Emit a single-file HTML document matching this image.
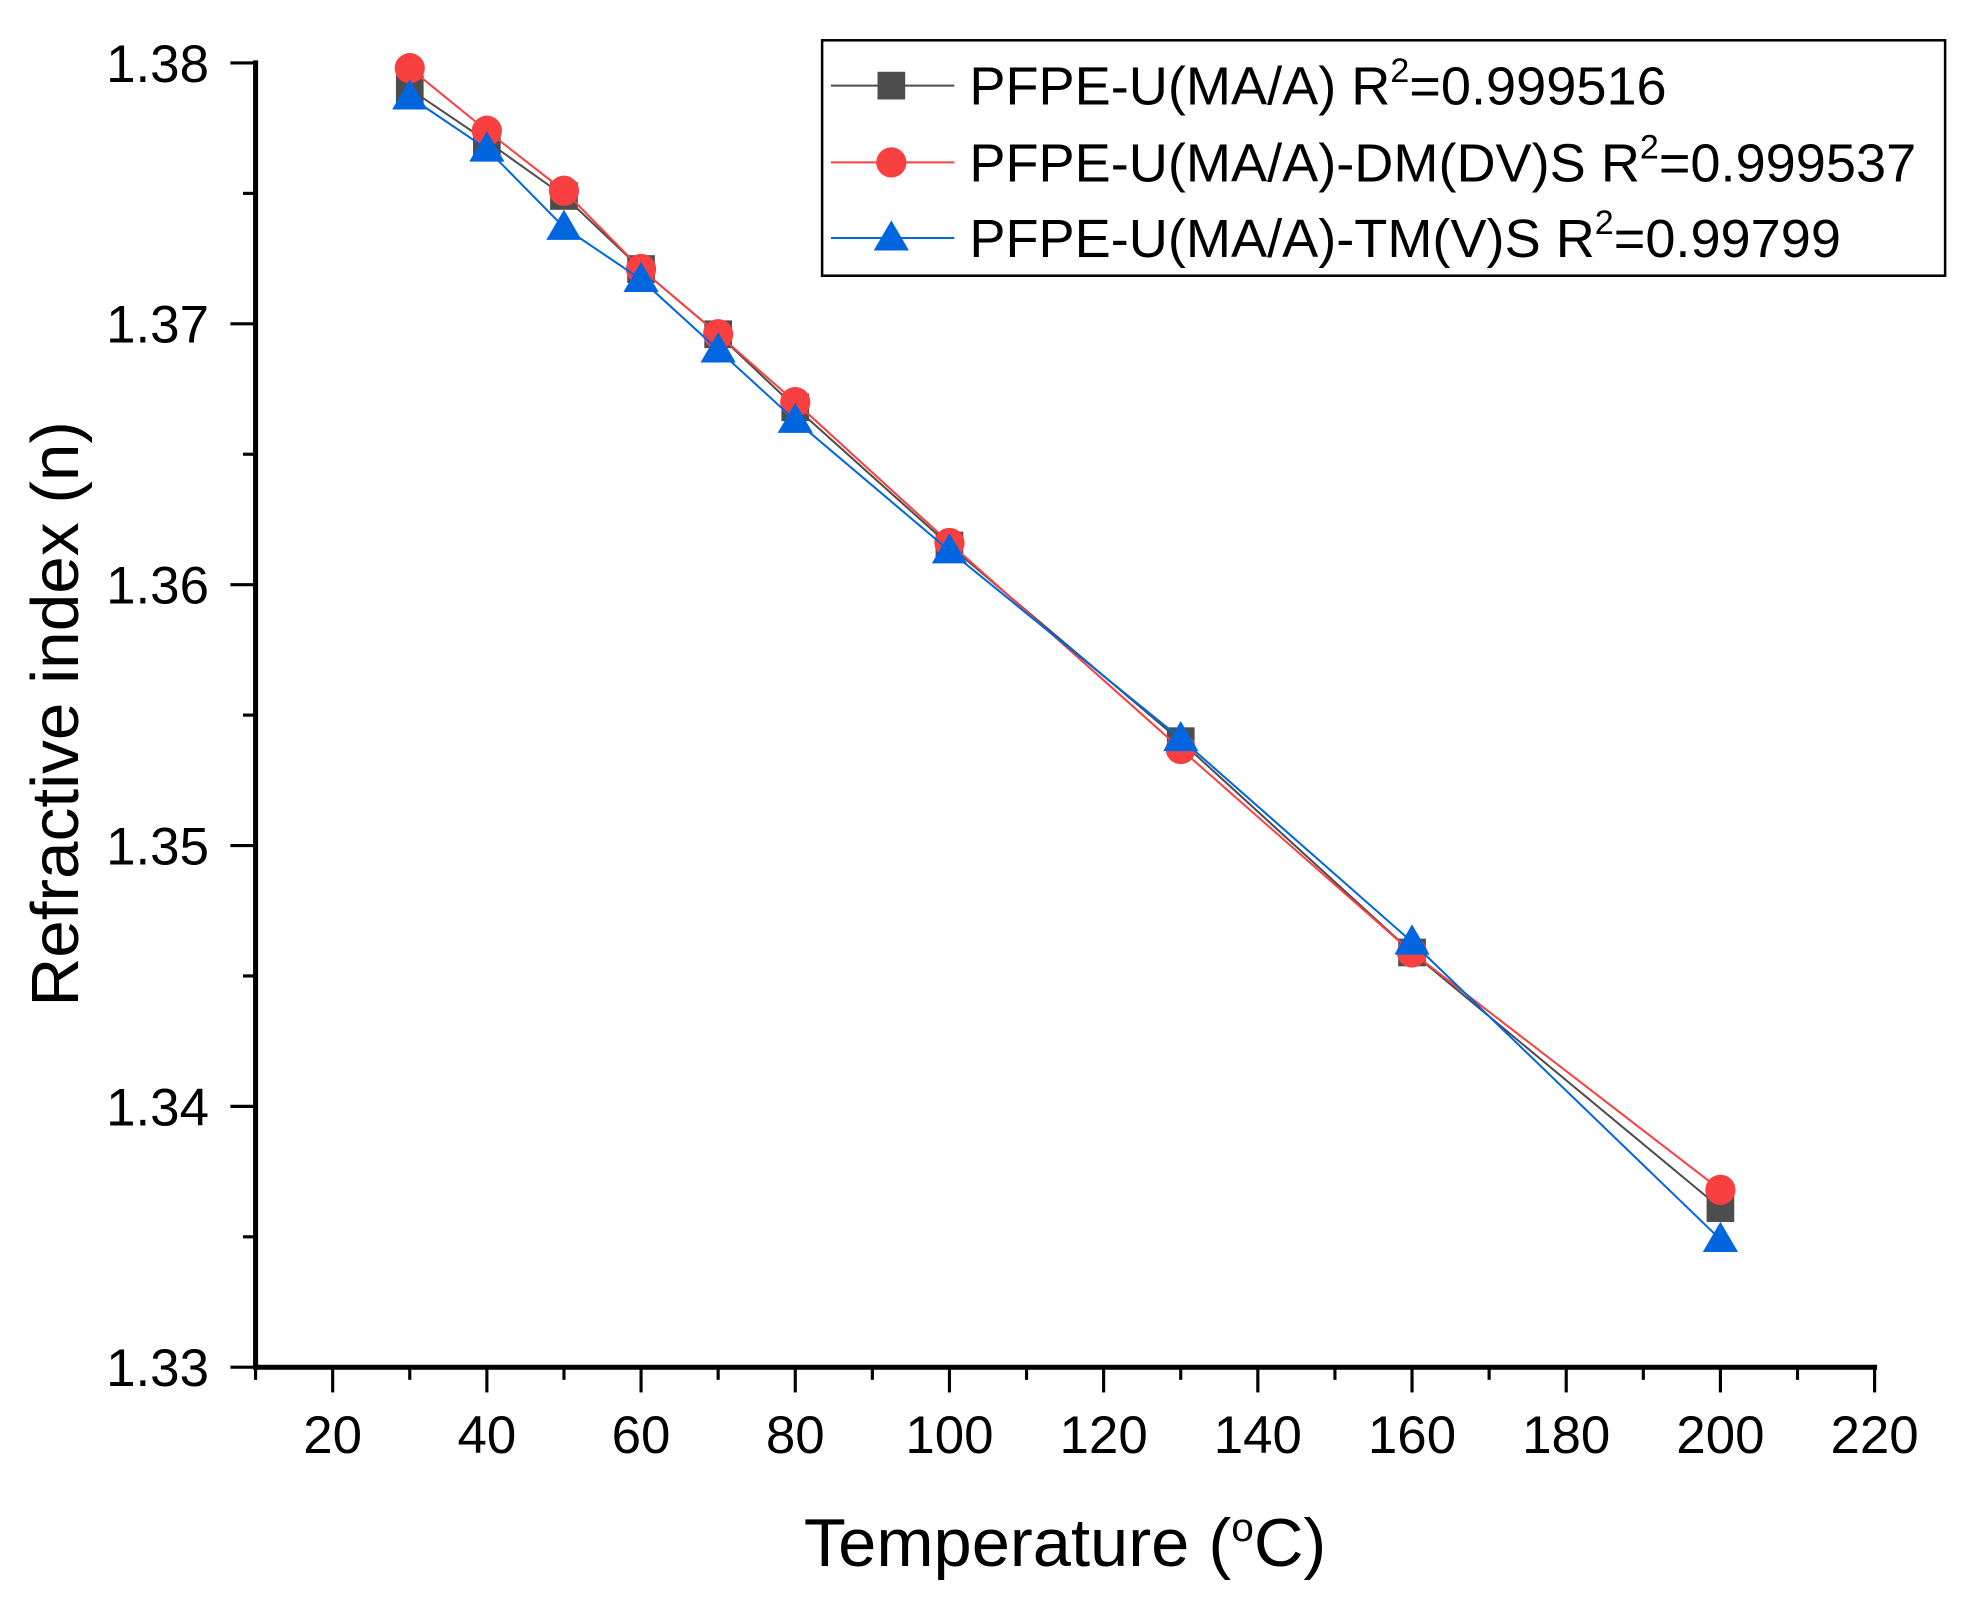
<!DOCTYPE html>
<html><head><meta charset="utf-8"><style>
html,body{margin:0;padding:0;background:#fff;}
svg{display:block;font-family:"Liberation Sans",Arial,sans-serif;}
</style></head><body>
<svg id="chart" width="1964" height="1597" viewBox="0 0 1560 1268.5" xmlns="http://www.w3.org/2000/svg">
<g id="axes"></g>
<g id="series"></g>
<text x="846" y="1244" font-size="54" text-anchor="middle" textLength="415" lengthAdjust="spacingAndGlyphs">Temperature (<tspan font-size="32" dy="-20">o</tspan><tspan dy="20">C)</tspan></text>
<text transform="translate(62,567) rotate(-90)" font-size="53" text-anchor="middle" textLength="465" lengthAdjust="spacingAndGlyphs">Refractive index (n)</text>
<g id="legend">
<rect x="653" y="32" width="892" height="187" fill="#fff" stroke="#000" stroke-width="2"/>
</g>
</svg>
<script>
const temps = [30, 40, 50, 60, 70, 80, 100, 130, 160, 200];
const seriesA = [1.3790, 1.3770, 1.3749, 1.3721, 1.3696, 1.3668, 1.3615, 1.3540, 1.3459, 1.3361];
const seriesB = [1.3798, 1.3774, 1.3751, 1.3721, 1.3696, 1.3670, 1.3616, 1.3537, 1.3459, 1.3368];
const seriesC = [1.3787, 1.3767, 1.3737, 1.3717, 1.3690, 1.3663, 1.3613, 1.3541, 1.3463, 1.3349];
const seriesNames = ["PFPE-U(MA/A) R", "PFPE-U(MA/A)-DM(DV)S R", "PFPE-U(MA/A)-TM(V)S R"];
const seriesR2 = ["=0.999516", "=0.999537", "=0.99799"];
const xTicks = [20, 40, 60, 80, 100, 120, 140, 160, 180, 200, 220];
const yTicks = [1.33, 1.34, 1.35, 1.36, 1.37, 1.38];

const NS = "http://www.w3.org/2000/svg";
const X0 = 203, X1 = 1489, Y0 = 1086, Y1 = 50;
const xMin = 10, xMax = 220, yMin = 1.33, yMax = 1.38;
const xs = v => X0 + (v - xMin) / (xMax - xMin) * (X1 - X0);
const ys = v => Y0 - (v - yMin) / (yMax - yMin) * (Y0 - Y1);
function mk(tag, attrs, parent) {
  const e = document.createElementNS(NS, tag);
  for (const k in attrs) e.setAttribute(k, attrs[k]);
  parent.appendChild(e);
  return e;
}
const axes = document.getElementById('axes');
let e;
e = mk('line', {x1: X0, y1: Y0, x2: X1 + 2, y2: Y0, stroke: '#000', 'stroke-width': 4}, axes);


e = mk('line', {x1: X0, y1: Y0 + 2, x2: X0, y2: Y1 - 2, stroke: '#000', 'stroke-width': 4}, axes);


for (let v = 10; v <= 220; v += 10) {
  const major = xTicks.includes(v);
  e = mk('line', {x1: xs(v), y1: Y0, x2: xs(v), y2: Y0 + (major ? 20 : 10), stroke: '#000', 'stroke-width': 2.5}, axes);
  
  
}
xTicks.forEach(v => {
  e = mk('text', {x: xs(v), y: 1154, 'font-size': 42, 'text-anchor': 'middle'}, axes);
  e.textContent = v;
  
  
});
for (let i = 0; i <= 10; i++) {
  const v = yMin + i * 0.005;
  const major = i % 2 === 0;
  e = mk('line', {x1: X0, y1: ys(v), x2: X0 - (major ? 20 : 10), y2: ys(v), stroke: '#000', 'stroke-width': 2.5}, axes);
  
  
}
yTicks.forEach(v => {
  e = mk('text', {x: 166, y: ys(v) + 15, 'font-size': 42, 'text-anchor': 'end'}, axes);
  e.textContent = v.toFixed(2);
  
  
});

const colors = ['#4d4d4d', '#f94040', '#0066e0'];
const shapes = ['square', 'circle', 'triangle'];
function marker(shape, cx, cy, color, parent) {
  let m;
  if (shape === 'square') m = mk('rect', {x: cx - 11, y: cy - 11, width: 22, height: 22, fill: color}, parent);
  else if (shape === 'circle') m = mk('circle', {cx: cx, cy: cy, r: 12, fill: color}, parent);
  else m = mk('polygon', {points: `${cx},${cy - 14} ${cx - 14},${cy + 10} ${cx + 14},${cy + 10}`, fill: color}, parent);
  return m;
}
const sg = document.getElementById('series');
const allData = [seriesA, seriesB, seriesC];
allData.forEach((d, si) => {
  const g = mk('g', {}, sg);
  
  
  const pts = temps.map((t, i) => xs(t) + ',' + ys(d[i])).join(' ');
  const pl = mk('polyline', {points: pts, fill: 'none', stroke: colors[si], 'stroke-width': 1.6}, g);
  
  
  temps.forEach((t, i) => {
    const m = marker(shapes[si], xs(t), ys(d[i]), colors[si], g);
    
    
  });
});

const lg = document.getElementById('legend');
const ly = [68, 129, 189];
seriesNames.forEach((n, i) => {
  const g = mk('g', {}, lg);
  
  
  mk('line', {x1: 660, y1: ly[i], x2: 758, y2: ly[i], stroke: colors[i], 'stroke-width': 1.6}, g);
  marker(shapes[i], 708, ly[i], colors[i], g);
  const t = mk('text', {x: 770, y: ly[i] + 15, 'font-size': 43}, g);
  t.appendChild(document.createTextNode(n));
  const s = mk('tspan', {'font-size': 27, dy: -18}, t);
  s.textContent = '2';
  const r = mk('tspan', {dy: 18}, t);
  r.textContent = seriesR2[i];
});
</script>
</body></html>
